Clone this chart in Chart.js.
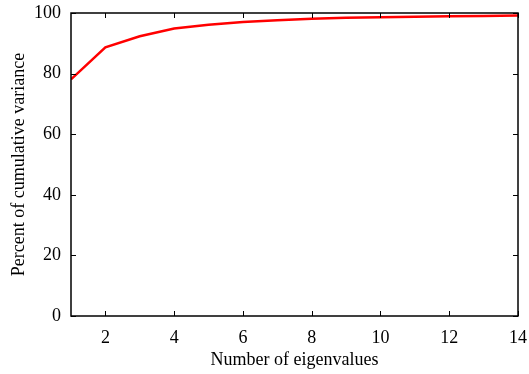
<!DOCTYPE html>
<html>
<head>
<meta charset="utf-8">
<script src="https://cdn.jsdelivr.net/npm/chart.js@4.4.1/dist/chart.umd.min.js"></script>
<style>
  html, body { margin: 0; padding: 0; background: #ffffff; }
  #wrap { width: 529px; height: 374px; position: relative; }
</style>
</head>
<body>
<div id="wrap"><canvas id="c" width="529" height="374"></canvas></div>
<script>
const eigenCounts = [1, 2, 3, 4, 5, 6, 7, 8, 9, 10, 11, 12, 13, 14];
const cumulativeVariance = [78.1, 88.7, 92.3, 94.9, 96.1, 97.0, 97.6, 98.1, 98.4, 98.6, 98.8, 98.9, 99.0, 99.2];
const xTickValues = [2, 4, 6, 8, 10, 12, 14];
const yTickValues = [0, 20, 40, 60, 80, 100];
const xTitle = 'Number of eigenvalues';
const yTitle = 'Percent of cumulative variance';

const FONT = 'Liberation Serif, Times New Roman, serif';

const framePlugin = {
  id: 'frame',
  afterDatasetsDraw(chart) {
    const { ctx, chartArea: a, scales } = chart;
    ctx.save();
    ctx.strokeStyle = '#000';
    ctx.lineWidth = 1;
    ctx.beginPath();
    const tl = 5;
    xTickValues.forEach(v => {
      const x = Math.round(scales.x.getPixelForValue(v)) + 0.5;
      ctx.moveTo(x, a.bottom); ctx.lineTo(x, a.bottom - tl);
      ctx.moveTo(x, a.top); ctx.lineTo(x, a.top + tl);
    });
    yTickValues.forEach(v => {
      const y = Math.round(scales.y.getPixelForValue(v)) + 0.5;
      ctx.moveTo(a.left, y); ctx.lineTo(a.left + tl, y);
      ctx.moveTo(a.right, y); ctx.lineTo(a.right - tl, y);
    });
    ctx.stroke();
    ctx.lineWidth = 1.5;
    ctx.strokeRect(a.left, a.top, a.right - a.left, a.bottom - a.top);
    ctx.restore();
  }
};

new Chart(document.getElementById('c'), {
  type: 'line',
  data: {
    datasets: [{
      data: eigenCounts.map((x, i) => ({ x, y: cumulativeVariance[i] })),
      borderColor: '#ff0000',
      borderWidth: 2.5,
      pointRadius: 0,
      tension: 0,
      fill: false
    }]
  },
  options: {
    responsive: false,
    animation: false,
    devicePixelRatio: 1,
    layout: { padding: { left: 0, top: 13, right: 11, bottom: 0 } },
    plugins: { legend: { display: false }, tooltip: { enabled: false } },
    scales: {
      x: {
        type: 'linear',
        min: 1, max: 14,
        afterBuildTicks: s => { s.ticks = xTickValues.map(v => ({ value: v })); },
        afterFit: s => { s.height = 58; },
        grid: { display: false, drawTicks: true, tickLength: 11 },
        border: { display: false },
        ticks: { color: '#000', font: { family: FONT, size: 18 }, padding: 0, maxRotation: 0, autoSkip: false },
        title: { display: true, text: xTitle, color: '#000', font: { family: FONT, size: 18 }, padding: { top: 0, bottom: 3 } }
      },
      y: {
        min: 0, max: 100,
        afterBuildTicks: s => { s.ticks = yTickValues.map(v => ({ value: v })); },
        afterFit: s => { s.width = 71; },
        grid: { display: false, drawTicks: true, tickLength: 10 },
        border: { display: false },
        ticks: { color: '#000', font: { family: FONT, size: 18 }, padding: 0 },
        title: { display: true, text: yTitle, color: '#000', font: { family: FONT, size: 18 }, padding: { top: 8, bottom: 0 } }
      }
    }
  },
  plugins: [framePlugin]
});
</script>
</body>
</html>
